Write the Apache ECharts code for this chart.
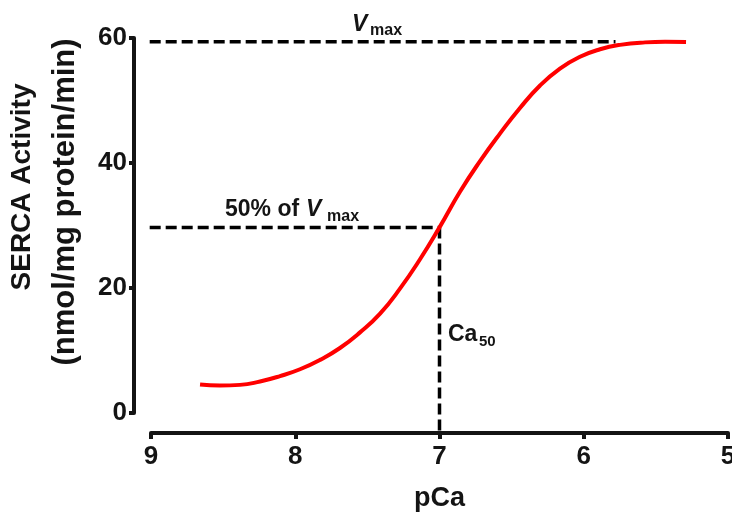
<!DOCTYPE html>
<html>
<head>
<meta charset="utf-8">
<script src="https://cdn.jsdelivr.net/npm/echarts@6/dist/echarts.min.js"></script>
<style>
html,body{margin:0;padding:0;background:#fff;}
#c{width:732px;height:515px;}
</style>
</head>
<body>
<div id="c"></div>
<script>
// Data
const curvePCa = [8.660, 8.522, 8.383, 8.244, 8.106, 7.967, 7.828, 7.690, 7.551, 7.412, 7.274, 7.135, 7.000, 6.858, 6.719, 6.581, 6.442, 6.303, 6.165, 6.026, 5.887, 5.749, 5.575, 5.436, 5.291];
const curveActivity = [4.55, 4.4, 4.5, 5.05, 5.9, 7.0, 8.5, 10.4, 12.9, 15.9, 19.9, 24.6, 29.7, 35.4, 40.3, 44.7, 48.8, 52.4, 55.1, 57.0, 58.2, 58.9, 59.3, 59.4, 59.35];
const vmaxLinePCa = [9.12, 5.78];
const vmaxLineValue = [59.4, 59.4];
const halfLinePCa = [9.12, 7.0];
const halfLineValue = [29.7, 29.7];
const ca50LinePCa = [7.0, 7.0];
const ca50LineValue = [29.7, -3.2];
const xTicks = [5, 6, 7, 8, 9];
const yTicks = [0, 20, 40, 60];

const zip = (a, b) => a.map((v, i) => [v, b[i]]);
const FONT = 'Liberation Sans, Arial, sans-serif';
const INK = '#141414';

const chart = echarts.init(document.getElementById('c'), null, {renderer: 'canvas'});
const dashStyle = {color: '#000', width: 3.5, type: [11, 5]};

chart.setOption({
  animation: false,
  backgroundColor: '#fff',
  grid: {left: 151, top: 38, width: 577, height: 375, containLabel: false, outerBoundsMode: 'none'},
  xAxis: {
    type: 'value', min: 5, max: 9, interval: 1, inverse: true, offset: 20,
    axisLine: {show: true, onZero: false, lineStyle: {color: INK, width: 4}},
    axisTick: {show: true, length: 6, lineStyle: {color: INK, width: 4}},
    axisLabel: {color: INK, fontSize: 26, fontWeight: 'bold', fontFamily: FONT, margin: 11,
      formatter: v => xTicks.includes(v) ? String(v) : ''},
    splitLine: {show: false},
    name: 'pCa', nameLocation: 'middle', nameGap: 52,
    nameTextStyle: {color: INK, fontSize: 27, fontWeight: 'bold', fontFamily: FONT}
  },
  yAxis: {
    type: 'value', min: 0, max: 60, interval: 20, offset: 17,
    axisLine: {show: true, onZero: false, lineStyle: {color: INK, width: 4}},
    axisTick: {show: true, length: 5, lineStyle: {color: INK, width: 4}},
    axisLabel: {color: INK, fontSize: 26, fontWeight: 'bold', fontFamily: FONT, margin: 7,
      formatter: v => yTicks.includes(v) ? String(v) : ''},
    splitLine: {show: false}
  },
  series: [
    {type: 'line', data: zip(vmaxLinePCa, vmaxLineValue), symbol: 'none', clip: false, lineStyle: dashStyle, z: 3},
    {type: 'line', data: zip(halfLinePCa, halfLineValue), symbol: 'none', clip: false, lineStyle: dashStyle, z: 3},
    {type: 'line', data: zip(ca50LinePCa, ca50LineValue), symbol: 'none', clip: false, lineStyle: dashStyle, z: 3},
    {type: 'line', data: zip(curvePCa, curveActivity), symbol: 'none', smooth: 0.5, clip: false,
      lineStyle: {color: '#ff0000', width: 4}, z: 4}
  ],
  graphic: [
    {type: 'text', x: 22, y: 187, rotation: Math.PI / 2,
      style: {text: 'SERCA Activity', font: 'bold 28px ' + FONT, fill: INK, align: 'center', verticalAlign: 'middle'}},
    {type: 'text', x: 65, y: 202, rotation: Math.PI / 2,
      style: {text: '(nmol/mg protein/min)', font: 'bold 31px ' + FONT, fill: INK, align: 'center', verticalAlign: 'middle'}},
    {type: 'text', x: 352, y: 25, style: {text: 'V', font: 'italic bold 23px ' + FONT, fill: INK, align: 'left', verticalAlign: 'middle'}},
    {type: 'text', x: 370, y: 31, style: {text: 'max', font: 'bold 16px ' + FONT, fill: INK, align: 'left', verticalAlign: 'middle'}},
    {type: 'text', x: 225, y: 210, style: {text: '50% of', font: 'bold 23px ' + FONT, fill: INK, align: 'left', verticalAlign: 'middle'}},
    {type: 'text', x: 306, y: 210, style: {text: 'V', font: 'italic bold 23px ' + FONT, fill: INK, align: 'left', verticalAlign: 'middle'}},
    {type: 'text', x: 327, y: 217, style: {text: 'max', font: 'bold 16px ' + FONT, fill: INK, align: 'left', verticalAlign: 'middle'}},
    {type: 'text', x: 448, y: 335, style: {text: 'Ca', font: 'bold 23px ' + FONT, fill: INK, align: 'left', verticalAlign: 'middle'}},
    {type: 'text', x: 479, y: 342, style: {text: '50', font: 'bold 15px ' + FONT, fill: INK, align: 'left', verticalAlign: 'middle'}}
  ]
});
</script>
</body>
</html>
